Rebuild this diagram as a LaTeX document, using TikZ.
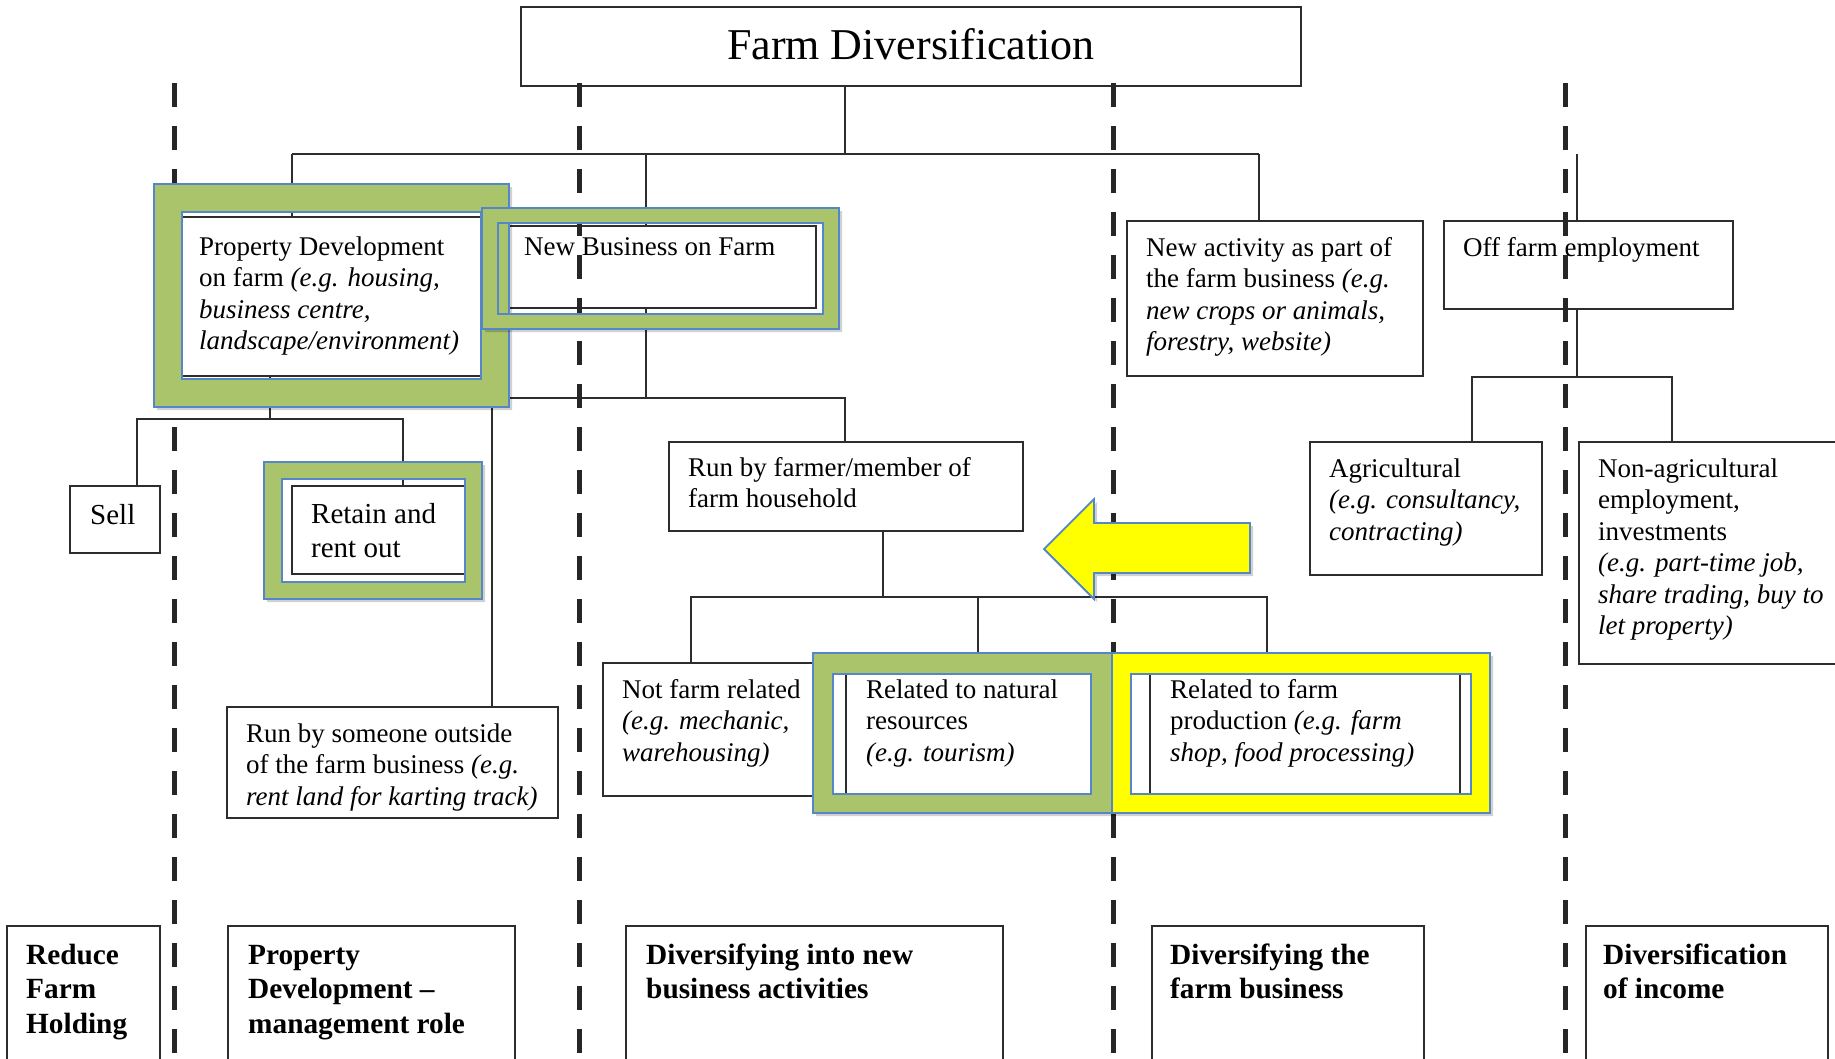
\documentclass[tikz,border=0pt]{standalone}
\usepackage{fontspec}
\setmainfont{Liberation Serif}
\definecolor{hlgreen}{RGB}{169,196,106}
\definecolor{hlblue}{RGB}{84,134,200}
\definecolor{hlyellow}{RGB}{255,255,0}
\definecolor{ink}{RGB}{45,45,45}
\tikzset{
  boxn/.style={draw=ink, line width=1.6pt, fill=white, inner sep=0pt, outer sep=0pt, anchor=north west},
  conn/.style={draw=ink, line width=1.4pt},
  txt/.style={anchor=base west, inner sep=0pt, align=left, font=\fontsize{27}{31.5}\selectfont},
  bigtxt/.style={anchor=base west, inner sep=0pt, align=left, font=\fontsize{29}{34}\selectfont},
  boldtxt/.style={anchor=base west, inner sep=0pt, align=left, font=\fontsize{29.3}{34.5}\selectfont\bfseries},
  titletxt/.style={anchor=base, inner sep=0pt, font=\fontsize{44}{50}\selectfont},
  divider/.style={line width=5pt, draw=black!85, dash pattern=on 24pt off 19pt},
}
\newcommand\boxat[5]{\node[boxn, minimum width={(#4-#2)*1pt}, minimum height={(#5-#3)*1pt}] (#1) at (#2,#3) {};}
\newcommand\hlring[9]{%
  \fill[black, opacity=0.18, even odd rule] (#1+3,#2+3) rectangle (#3+3,#4+3) (#1,#2) rectangle (#3,#4);
  \fill[#9, even odd rule] (#1,#2) rectangle (#3,#4) (#5,#6) rectangle (#7,#8);
  \draw[hlblue, line width=1.8pt] (#1,#2) rectangle (#3,#4) (#5,#6) rectangle (#7,#8);
}
\begin{document}
\begin{tikzpicture}[x=1pt, y=-1pt]
\useasboundingbox (0,0) rectangle (1835,1058);
\clip (0,0) rectangle (1835,1058);
\fill[white] (0,0) rectangle (1835,1058);

% ---------- boxes ----------
\boxat{title}{521}{7}{1301}{86}
\boxat{pd}{176}{217}{486}{376}
\boxat{nb}{505}{226}{816}{308}
\boxat{na}{1127}{221}{1423}{376}
\boxat{off}{1444}{221}{1733}{309}
\boxat{sell}{70}{486}{160}{553}
\boxat{ret}{292}{486}{466}{574}
\boxat{rso}{227}{707}{558}{818}
\boxat{rbf}{669}{442}{1023}{531}
\boxat{nfr}{603}{663}{826}{796}
\boxat{nat}{846}{663}{1098}{796}
\boxat{prod}{1150}{663}{1460}{796}
\boxat{agr}{1310}{442}{1542}{575}
\boxat{nonag}{1579}{442}{1850}{664}
\boxat{b1}{7}{926}{160}{1075}
\boxat{b2}{228}{926}{515}{1075}
\boxat{b3}{626}{926}{1003}{1075}
\boxat{b4}{1152}{926}{1424}{1075}
\boxat{b5}{1586}{926}{1828}{1075}

% ---------- connectors ----------
\coordinate (busA) at (845,154);
\coordinate (busL) at (292,154);
\coordinate (busR) at (1259,154);
\coordinate (dNB) at (646,154);
\coordinate (offtop) at (1577,154);
\draw[conn] (title.south -| busA) -- (busA);
\draw[conn] (busL) -- (busR);
\draw[conn] (busL) -- (pd.north -| busL);
\draw[conn] (dNB) -- (nb.north -| dNB);
\draw[conn] (busR) -- (na.north -| busR);
\draw[conn] (offtop) -- (off.north -| offtop);

\coordinate (pdj) at (270,419);
\coordinate (sellj) at (137,419);
\coordinate (retj) at (403,419);
\draw[conn] (pd.south -| pdj) -- (pdj);
\draw[conn] (sell.north -| sellj) -- (sellj) -- (retj) -- (ret.north -| retj);

\coordinate (nbj) at (646,398);
\coordinate (rsoj) at (492,398);
\coordinate (rbfj) at (845,398);
\draw[conn] (nb.south -| nbj) -- (nbj);
\draw[conn] (rso.north -| rsoj) -- (rsoj) -- (rbfj) -- (rbf.north -| rbfj);

\coordinate (rbfs) at (883,597);
\coordinate (c1) at (691,597);
\coordinate (c2) at (978,597);
\coordinate (c3) at (1267,597);
\draw[conn] (rbf.south -| rbfs) -- (rbfs);
\draw[conn] (nfr.north -| c1) -- (c1) -- (c3) -- (prod.north -| c3);
\draw[conn] (c2) -- (nat.north -| c2);

\coordinate (offj) at (1577,377);
\coordinate (agj) at (1472,377);
\coordinate (noj) at (1672,377);
\draw[conn] (off.south -| offj) -- (offj);
\draw[conn] (agr.north -| agj) -- (agj) -- (noj) -- (nonag.north -| noj);

% ---------- texts (anchor = baseline of the last line) ----------
\node[titletxt] (ttitle) at (911,59) {Farm Diversification};
\node[txt] (tpd) at (199,349.5) {Property Development\\on farm \textit{(e.g. housing,}\\\textit{business centre,}\\\textit{landscape/environment)}};
\node[txt] (tnb) at (524,255) {New Business on Farm};
\node[txt] (tna) at (1146,350.5) {New activity as part of\\the farm business \textit{(e.g.}\\\textit{new crops or animals,}\\\textit{forestry, website)}};
\node[txt] (toff) at (1463,256) {Off farm employment};
\node[bigtxt] (tsell) at (90,524) {Sell};
\node[bigtxt] (tret) at (311,557) {Retain and\\rent out};
\node[txt] (trso) at (246,805) {Run by someone outside\\of the farm business \textit{(e.g.}\\\textit{rent land for karting track)}};
\node[txt] (trbf) at (688,507.5) {Run by farmer/member of\\farm household};
\node[txt] (tnfr) at (622,761) {Not farm related\\\textit{(e.g. mechanic,}\\\textit{warehousing)}};
\node[txt] (tnat) at (866,761) {Related to natural\\resources\\\textit{(e.g. tourism)}};
\node[txt] (tprod) at (1170,761) {Related to farm\\production \textit{(e.g. farm}\\\textit{shop, food processing)}};
\node[txt] (tagr) at (1329,540) {Agricultural\\\textit{(e.g. consultancy,}\\\textit{contracting)}};
\node[txt] (tnon) at (1598,634.5) {Non-agricultural\\employment,\\investments\\\textit{(e.g. part-time job,}\\\textit{share trading, buy to}\\\textit{let property)}};
\node[boldtxt] (tb1) at (26,1033) {Reduce\\Farm\\Holding};
\node[boldtxt] (tb2) at (248,1033) {Property\\Development --\\management role};
\node[boldtxt] (tb3) at (646,998.5) {Diversifying into new\\business activities};
\node[boldtxt] (tb4) at (1170,998.5) {Diversifying the\\farm business};
\node[boldtxt] (tb5) at (1603,998.5) {Diversification\\of income};

% ---------- dashed dividers ----------
\foreach \dx/\nm in {174/dva, 579/dvb, 1113/dvc, 1565/dvd} {
  \coordinate (\nm t) at (\dx,83);
  \coordinate (\nm b) at (\dx,1070);
  \draw[divider] (\nm t) -- (\nm b);
}

% ---------- highlight frames ----------
\hlring{154}{184}{509}{407}{182}{212}{481}{379}{hlgreen}
\hlring{482}{208}{839}{329}{498}{223}{823}{314}{hlgreen}
\hlring{264}{462}{482}{599}{282}{479}{465}{582}{hlgreen}
\hlring{813}{653}{1112}{813}{833}{674}{1091}{794}{hlgreen}
\hlring{1112}{653}{1490}{813}{1131}{674}{1471}{794}{hlyellow}

% ---------- yellow arrow ----------
\fill[black, opacity=0.18] (1047,552) -- (1097,502) -- (1097,526) -- (1253,526) -- (1253,576) -- (1097,576) -- (1097,602) -- cycle;
\filldraw[fill=hlyellow, draw=hlblue, line width=1.8pt, line join=miter]
  (1044,549) -- (1094,499) -- (1094,523) -- (1250,523) -- (1250,573) -- (1094,573) -- (1094,599) -- cycle;
\end{tikzpicture}
\end{document}
